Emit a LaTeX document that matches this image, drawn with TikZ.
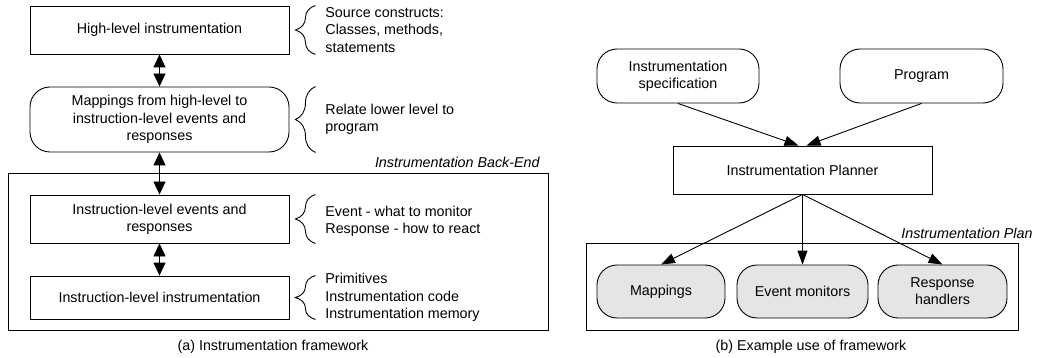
\documentclass[tikz,border=0pt]{standalone}
\usepackage{fontspec}
\setmainfont{Liberation Sans}
\usetikzlibrary{arrows.meta,decorations.pathreplacing}
\begin{document}
\begin{tikzpicture}[x=1pt,y=-1pt,
  font=\fontsize{14.3}{17.2}\selectfont,
  line width=0.9pt,
  box/.style={draw, rectangle, align=center, inner sep=2pt},
  rbox/.style={box, rounded corners=20pt},
  gbox/.style={rbox, fill=gray!20},
  frame/.style={draw, rectangle, inner sep=0pt},
  note/.style={anchor=west, align=left, inner sep=0pt},
  tag/.style={anchor=east, inner sep=0pt, font=\fontsize{14.3}{17.2}\selectfont\itshape},
  dbl/.style={{Triangle[length=13pt,width=12pt]}-{Triangle[length=13pt,width=12pt]}},
  arr/.style={-{Triangle[length=14pt,width=10pt]}},
  lbrace/.style={decorate, decoration={brace, amplitude=20pt, aspect=0.5}}
]
\useasboundingbox (0,0) rectangle (1038,358);

% ---------- (a) ----------
\node[frame, minimum width=540pt, minimum height=157pt] (backend) at (278,251.5) {};
\node[tag] (backendlbl) at (540,162) {Instrumentation Back-End};

\node[box, minimum width=259pt, minimum height=48pt] (hl) at (159.5,30) {High-level instrumentation};
\node[rbox, minimum width=259pt, minimum height=65pt] (map) at (159.5,119.5) {Mappings from high-level to\\instruction-level events and\\responses};
\node[box, minimum width=259pt, minimum height=48pt] (ev) at (159.5,219) {Instruction-level events and\\responses};
\node[box, minimum width=259pt, minimum height=43pt] (il) at (159.5,297.5) {Instruction-level instrumentation};

\draw[dbl] (hl.south) -- (map.north);
\draw[dbl] (map.south) -- (ev.north);
\draw[dbl] (ev.south) -- (il.north);

\draw[lbrace] ([xshift=26pt]hl.south east) -- ([xshift=26pt]hl.north east);
\draw[lbrace] ([xshift=26pt]map.south east) -- ([xshift=26pt]map.north east);
\draw[lbrace] ([xshift=26pt]ev.south east) -- ([xshift=26pt]ev.north east);
\draw[lbrace] ([xshift=26pt]il.south east) -- ([xshift=26pt]il.north east);

\node[note] (n1) at (325,30) {Source constructs:\\Classes, methods,\\statements};
\node[note] (n2) at (325,119) {Relate lower level to\\program};
\node[note] (n3) at (325,221) {Event - what to monitor\\Response - how to react};
\node[note] (n4) at (325,297.5) {Primitives\\Instrumentation code\\Instrumentation memory};

\node (capa) at (273,347) {(a) Instrumentation framework};

% ---------- (b) ----------
\node[frame, minimum width=432pt, minimum height=87pt] (plan) at (802,286.5) {};
\node[tag] (planlbl) at (1033,233) {Instrumentation Plan};

\node[rbox, minimum width=162pt, minimum height=54pt] (spec) at (678,76) {Instrumentation\\specification};
\node[rbox, minimum width=163pt, minimum height=54pt] (prog) at (921.5,76) {Program};
\node[box, minimum width=259pt, minimum height=48pt] (planner) at (802.5,170) {Instrumentation Planner};

\node[gbox, minimum width=128pt, minimum height=53pt] (mp) at (661,291.5) {Mappings};
\node[gbox, minimum width=131pt, minimum height=53pt] (em) at (802.5,291.5) {Event monitors};
\node[gbox, minimum width=129pt, minimum height=53pt] (rh) at (942.5,291.5) {Response\\handlers};

\draw[arr] (spec.south) -- ([xshift=-4pt]planner.north);
\draw[arr] (prog.south) -- ([xshift=4pt]planner.north);
\draw[arr] (planner.south) -- (mp.north);
\draw[arr] (planner.south) -- (em.north);
\draw[arr] (planner.south) -- (rh.north);

\node (capb) at (811,347) {(b) Example use of framework};
\end{tikzpicture}
\end{document}
